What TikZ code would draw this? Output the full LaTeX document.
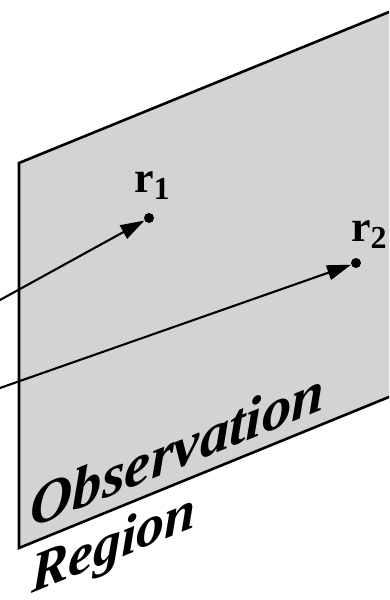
\documentclass[tikz,border=0pt]{standalone}
\usepackage{fontspec}
\setmainfont{Liberation Serif}
\usetikzlibrary{arrows.meta}
\definecolor{planegray}{RGB}{211,211,211}

\begin{document}
\begin{tikzpicture}[x=1pt,y=1pt,
          plane/.style={draw=black,line width=2.6pt,fill=planegray,
                        line join=miter},
          spot/.style={circle,fill=black,inner sep=0pt,minimum size=10pt},
          ray/.style={line width=2.1pt,
                      -{Triangle[length=24pt,width=15pt]}},
          ptlabel/.style={font=\fontsize{44}{44}\selectfont\bfseries,
                          inner sep=0pt,anchor=base west},
          planetext/.style={inner sep=0pt,anchor=base west,transform shape,
                            font=\fontsize{56}{56}\selectfont\bfseries\itshape}]
        \clip (0,0) rectangle (389,600);
        \filldraw[plane] (19,437) -- (19,52) -- (440,223.8)
          -- (440,608.8) -- cycle;
        \node[spot](r1) at (149,382){};
        \node[spot](r2) at (356,337){};
        \coordinate (s1) at (-10,294.5);
        \coordinate (s2) at (-10,208.5);
        \draw[ray](s1)--(r1);
        \draw[ray](s2)--(r2);
        \node[ptlabel](l1) at (134,407)
          {r\raisebox{-7pt}{\fontsize{32}{32}\selectfont 1}};
        \node[ptlabel](l2) at (351,358)
          {r\raisebox{-7pt}{\fontsize{32}{32}\selectfont 2}};
        \node[planetext,cm={1.05,0.428,0,1.05,(30,71)}](obs) at (0,0)
          {Observation};
        \node[planetext,cm={1.0,0.408,0,1.0,(31,6)}](reg) at (0,0)
          {Region};
      \end{tikzpicture}
\end{document}
